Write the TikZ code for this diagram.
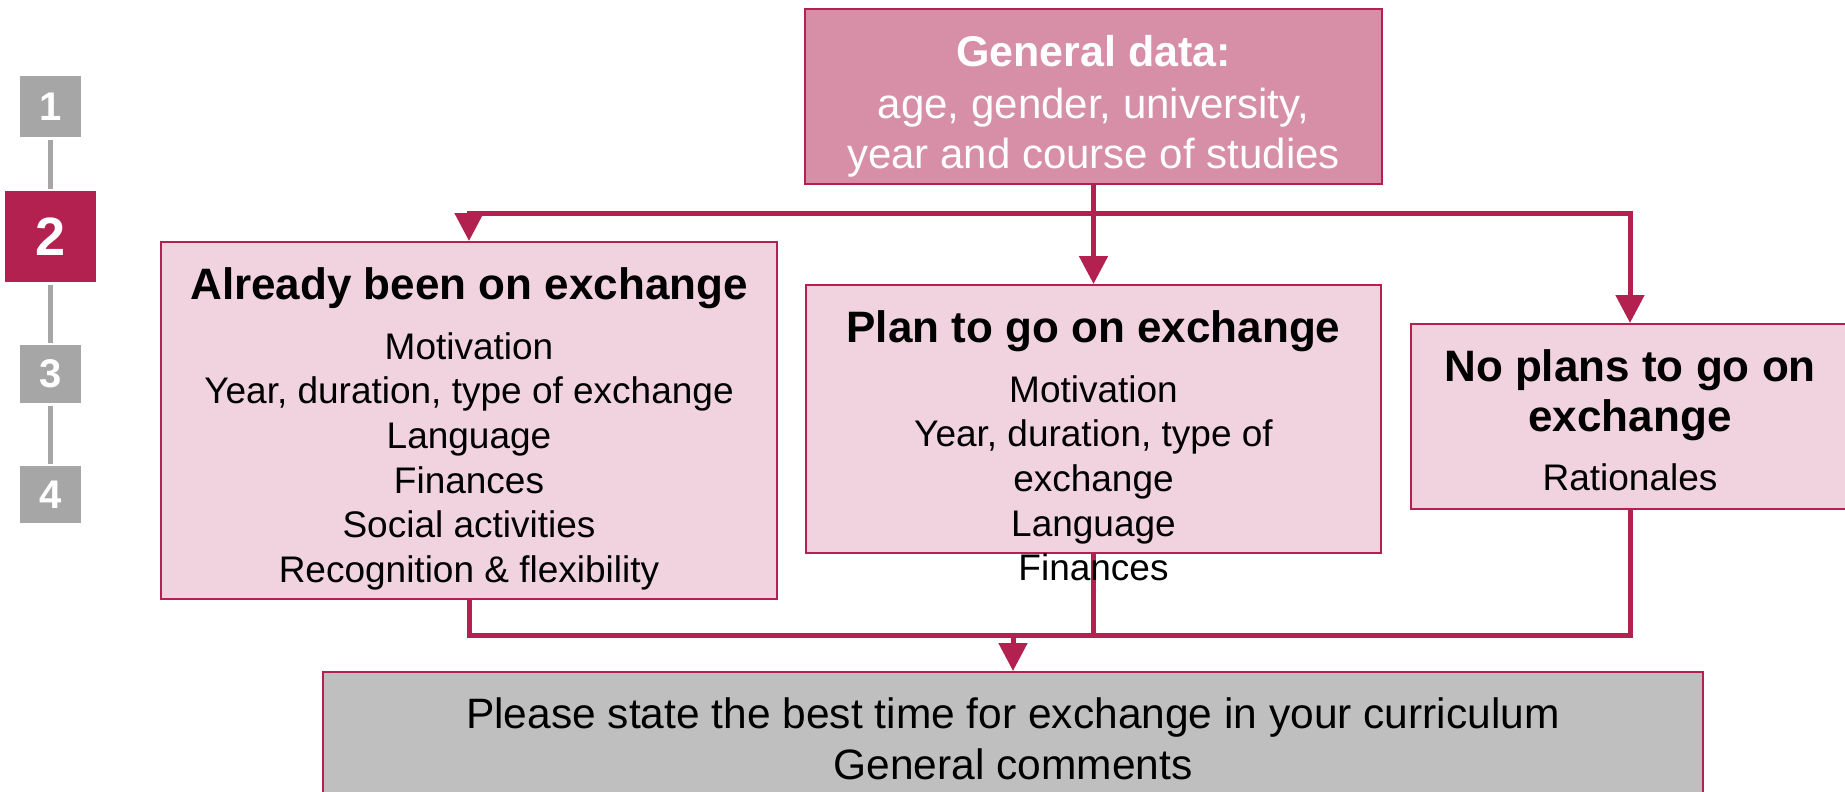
\documentclass[tikz,border=0pt]{standalone}
\usepackage{fontspec}
\setmainfont{Liberation Sans}
\usepackage{tikz}
\usetikzlibrary{arrows.meta}
\usetikzlibrary{positioning}

\definecolor{crimson}{HTML}{B22150}
\definecolor{rosefill}{HTML}{D68FA6}
\definecolor{palerose}{HTML}{F0D3DE}
\definecolor{stepgray}{HTML}{A6A6A6}
\definecolor{endgray}{HTML}{BFBFBF}

\newcommand{\headfont}{\fontsize{44}{50}\selectfont\bfseries}

\begin{document}
\begin{tikzpicture}[x=1pt, y=-1pt, >={Triangle[width=28pt,length=28pt]}, line width=5pt]
  \tikzstyle{box}=[draw=crimson, line width=2pt, fill=palerose, inner sep=0pt]
  \tikzstyle{boxtext}=[align=center, inner sep=0pt, font=\fontsize{37}{44.7}\selectfont]
  \tikzstyle{stepbox}=[fill=stepgray, text=white, inner sep=0pt, minimum width=61pt, font=\bfseries\fontsize{40}{40}\selectfont]
  \tikzstyle{flow}=[draw=crimson, ->]
  \tikzstyle{link}=[draw=crimson]

  \useasboundingbox (0,0) rectangle (1845,792);

  % steps on the left
  \node[stepbox, minimum height=61pt] (s1) at (50.5,106.5) {1};
  \node[stepbox, fill=crimson, minimum width=91pt, minimum height=91pt, font=\bfseries\fontsize{54}{54}\selectfont] (s2) at (50.5,236.5) {2};
  \node[stepbox, minimum height=58pt] (s3) at (50.5,374) {3};
  \node[stepbox, minimum height=57pt] (s4) at (50.5,494.5) {4};
  \path[draw=stepgray] (s1) -- (s2) (s2) -- (s3) (s3) -- (s4);

  % boxes
  \node[box, fill=rosefill, minimum width=577pt, minimum height=175pt] (general) at (1093.5,96.5) {};
  \node[box, minimum width=616pt, minimum height=357pt] (already) at (469,420.5) {};
  \node[box, minimum width=575pt, minimum height=268pt] (plan) at (1093.5,419) {};
  \node[box, minimum width=438pt, minimum height=185pt] (noplans) at (1630,416.5) {};
  \node[box, fill=endgray, minimum width=1380pt, minimum height=140pt] (final) at (1013,742) {};

  % connectors
  \coordinate (split) at (1093.5,213);
  \coordinate (merge) at (1013,635);
  \draw[flow] (general) -- (plan);
  \draw[flow] (split) -| (already);
  \draw[flow] (split) -| (noplans);
  \draw[link] (already) |- (merge);
  \draw[link] (noplans) |- (merge);
  \draw[link] (plan) -- (plan |- merge);
  \draw[flow] (merge) -- (final);

  % texts
  \node[boxtext, text=white, font=\fontsize{42}{50}\selectfont] (generaltext) [below=25pt of general.north] {{\bfseries\fontsize{43}{50}\selectfont General data:}\\[2pt] age, gender, university,\\ year and course of studies};
  \node[boxtext] (alreadytext) [below=24pt of already.north] {{\headfont Already been on exchange}\\[15pt] Motivation\\ Year, duration, type of exchange\\ Language\\ Finances\\ Social activities\\ Recognition \& flexibility};
  \node[boxtext] (plantext) [below=24pt of plan.north] {{\headfont Plan to go on exchange}\\[15pt] Motivation\\ Year, duration, type of\\ exchange\\ Language\\ Finances};
  \node[boxtext] (noplanstext) [below=24pt of noplans.north] {{\headfont No plans to go on}\\[5pt] {\headfont exchange}\\[15pt] Rationales};
  \node[boxtext, font=\fontsize{42.5}{51}\selectfont] (finaltext) [below=24pt of final.north] {Please state the best time for exchange in your curriculum\\ General comments};
\end{tikzpicture}
\end{document}
